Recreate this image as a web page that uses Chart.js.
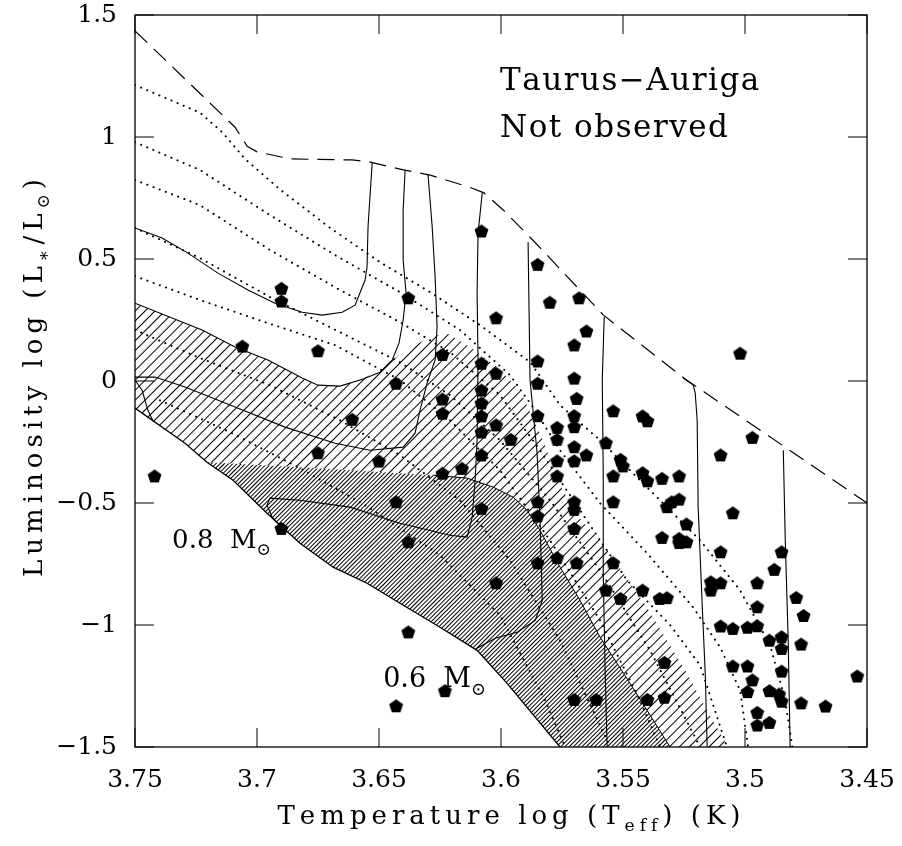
<!DOCTYPE html>
<html>
<head>
<meta charset="utf-8">
<title>Taurus-Auriga HR diagram</title>
<script src="https://cdn.jsdelivr.net/npm/chart.js@4.4.1/dist/chart.umd.min.js"></script>
<style>
  html, body { margin: 0; padding: 0; background: #fff; }
  #wrap { width: 902px; height: 846px; }
</style>
</head>
<body>
<div id="wrap"><canvas id="hrChart" width="902" height="846" style="width:902px;height:846px"></canvas></div>
<script>
  "use strict";

  // axis ticks
  const xTickValues = [3.75, 3.7, 3.65, 3.6, 3.55, 3.5, 3.45];
  const xTickLabels = ["3.75", "3.7", "3.65", "3.6", "3.55", "3.5", "3.45"];
  const yTickValues = [-1.5, -1, -0.5, 0, 0.5, 1, 1.5];
  const yTickLabels = ["\u22121.5", "\u22121", "\u22120.5", "0", "0.5", "1", "1.5"];

  // observed stars: [log Teff, log L]
  const stars = [
    [3.690, 0.380], [3.690, 0.328], [3.638, 0.341], [3.608, 0.615], [3.706, 0.143], [3.675, 0.124], [3.624, 0.109], [3.608, 0.073], [3.602, 0.259], [3.602, 0.032],
    [3.585, 0.478], [3.580, 0.323], [3.568, 0.341], [3.565, 0.205], [3.570, 0.148], [3.502, 0.114], [3.585, 0.082], [3.570, 0.012], [3.585, -0.009], [3.569, -0.071],
    [3.554, -0.122], [3.542, -0.143], [3.540, -0.163], [3.585, -0.142], [3.570, -0.142], [3.577, -0.190], [3.570, -0.187], [3.577, -0.239], [3.608, -0.037], [3.608, -0.090],
    [3.608, -0.143], [3.608, -0.209], [3.608, -0.303], [3.602, -0.180], [3.596, -0.239], [3.570, -0.269], [3.565, -0.303], [3.577, -0.327], [3.570, -0.327], [3.577, -0.389],
    [3.557, -0.253], [3.551, -0.321], [3.550, -0.348], [3.554, -0.389], [3.542, -0.376], [3.540, -0.409], [3.534, -0.399], [3.527, -0.389], [3.497, -0.231], [3.510, -0.303],
    [3.505, -0.540], [3.554, -0.495], [3.532, -0.515], [3.530, -0.495], [3.527, -0.484], [3.524, -0.586], [3.534, -0.641], [3.527, -0.645], [3.527, -0.662], [3.524, -0.659],
    [3.585, -0.495], [3.585, -0.553], [3.570, -0.495], [3.570, -0.526], [3.570, -0.604], [3.510, -0.700], [3.485, -0.700], [3.488, -0.772], [3.495, -0.827], [3.514, -0.823],
    [3.510, -0.827], [3.514, -0.857], [3.479, -0.887], [3.495, -0.925], [3.476, -0.961], [3.510, -1.004], [3.505, -1.014], [3.499, -1.009], [3.495, -1.003], [3.490, -1.062],
    [3.485, -1.048], [3.485, -1.096], [3.477, -1.078], [3.585, -0.745], [3.577, -0.724], [3.569, -0.745], [3.554, -0.745], [3.602, -0.827], [3.557, -0.857], [3.551, -0.891],
    [3.542, -0.857], [3.535, -0.891], [3.532, -0.888], [3.533, -1.153], [3.505, -1.168], [3.499, -1.168], [3.497, -1.225], [3.485, -1.189], [3.499, -1.273], [3.490, -1.269],
    [3.486, -1.283], [3.485, -1.312], [3.477, -1.319], [3.467, -1.332], [3.454, -1.209], [3.570, -1.305], [3.561, -1.305], [3.540, -1.305], [3.533, -1.296], [3.495, -1.358],
    [3.495, -1.410], [3.490, -1.399], [3.643, -0.009], [3.624, -0.074], [3.624, -0.132], [3.661, -0.157], [3.675, -0.294], [3.650, -0.328], [3.624, -0.378], [3.616, -0.358],
    [3.742, -0.389], [3.643, -0.495], [3.608, -0.522], [3.690, -0.604], [3.638, -0.659], [3.638, -1.028], [3.623, -1.269], [3.643, -1.331]
  ];

  // birthline (dashed)
  const birthline = [
    [3.750, 1.435], [3.715, 1.098], [3.709, 1.040], [3.704, 0.962], [3.700, 0.939], [3.690, 0.918], [3.686, 0.910],
    [3.661, 0.906], [3.654, 0.898], [3.640, 0.865], [3.629, 0.844], [3.612, 0.791], [3.607, 0.771], [3.599, 0.700],
    [3.587, 0.578], [3.558, 0.270], [3.524, 0.004], [3.521, -0.016], [3.450, -0.500]
  ];

  // evolutionary tracks (solid)
  const trackA = [[3.6528, 0.893], [3.6545, 0.631], [3.6549, 0.467], [3.6557, 0.414], [3.6598, 0.311], [3.6651, 0.282], [3.6733, 0.270], [3.6815, 0.282], [3.6926, 0.319], [3.7037, 0.373], [3.716, 0.442], [3.7283, 0.524], [3.7389, 0.586], [3.75, 0.627]];
  const trackB = [[3.6393, 0.865], [3.6401, 0.701], [3.6401, 0.496], [3.6389, 0.360], [3.6401, 0.250], [3.6418, 0.155], [3.6446, 0.086], [3.6496, 0.036], [3.6565, 0.008], [3.666, -0.021], [3.675, -0.017], [3.6815, 0.012], [3.6955, 0.086], [3.709, 0.139], [3.7225, 0.209], [3.75, 0.319]];
  const trackC = [[3.6299, 0.844], [3.6282, 0.631], [3.627, 0.426], [3.6262, 0.221], [3.627, 0.086], [3.6303, -0.009], [3.6332, -0.120], [3.6352, -0.214], [3.6401, -0.271], [3.6537, -0.284], [3.668, -0.255], [3.6885, -0.189], [3.709, -0.107], [3.7295, -0.025], [3.7418, 0.016], [3.75, 0.016]];
  const trackCEnd = [[3.75, 0.004], [3.7471, -0.038], [3.7447, -0.120], [3.7426, -0.165]];
  const trackD = [[3.6077, 0.770], [3.6094, 0.606], [3.6098, 0.360], [3.6094, 0.086], [3.6098, -0.243], [3.6106, -0.407], [3.6118, -0.558], [3.6139, -0.640], [3.6209, -0.632], [3.6414, -0.583], [3.6619, -0.517], [3.6824, -0.489], [3.6947, -0.480], [3.6959, -0.509], [3.6938, -0.558], [3.6914, -0.585]];
  const trackE = [[3.5889, 0.569], [3.5881, 0.004], [3.5852, -0.296], [3.584, -0.571], [3.5831, -0.899], [3.586, -0.981], [3.5934, -1.030], [3.6024, -1.054], [3.6098, -1.095]];
  const trackF = [[3.5577, 0.262], [3.5585, 0.004], [3.5581, -0.378], [3.5581, -0.788], [3.5573, -1.198], [3.5565, -1.5]];
  const trackG = [[3.5253, 0.012], [3.5212, -0.017], [3.5204, -0.050], [3.5196, -0.161], [3.5192, -0.517], [3.5175, -0.927], [3.5163, -1.198], [3.5155, -1.5]];
  const trackH = [[3.4843, -0.284], [3.4835, -0.653], [3.4823, -1.063], [3.4815, -1.5]];

  // lower envelope (solid)
  const zams = [[3.75, -0.111], [3.7295, -0.255], [3.7205, -0.333], [3.7098, -0.407], [3.6959, -0.542], [3.6824, -0.665], [3.6688, -0.763], [3.6549, -0.829], [3.6414, -0.911], [3.625, -1.009], [3.6098, -1.104], [3.5975, -1.239], [3.5758, -1.5]];

  // isochrones (dotted)
  const iso1 = [[3.75, 1.213], [3.7234, 1.100], [3.7143, 1.020], [3.7049, 0.910], [3.6906, 0.785], [3.67, 0.627], [3.6496, 0.487], [3.629, 0.364], [3.6086, 0.229], [3.588, 0.077], [3.5758, -0.099], [3.5594, -0.243], [3.5389, -0.448], [3.5184, -0.653], [3.502, -0.858], [3.4897, -1.083], [3.4835, -1.309], [3.4806, -1.5]];
  const iso2 = [[3.75, 0.979], [3.7234, 0.865], [3.6947, 0.680], [3.668, 0.516], [3.6414, 0.364], [3.6168, 0.209], [3.5963, 0.024], [3.586, -0.120], [3.5758, -0.284], [3.5594, -0.501], [3.5401, -0.706], [3.5213, -0.927], [3.5102, -1.091], [3.502, -1.268], [3.4987, -1.5]];
  const iso3 = [[3.75, 0.824], [3.7234, 0.721], [3.6947, 0.537], [3.666, 0.373], [3.6414, 0.241], [3.6209, 0.118], [3.6004, -0.058], [3.584, -0.284], [3.5676, -0.530], [3.5483, -0.817], [3.5307, -1.0], [3.5184, -1.165], [3.5074, -1.5]];
  const iso4 = [[3.75, 0.627], [3.7234, 0.504], [3.6947, 0.344], [3.666, 0.200], [3.6414, 0.077], [3.6209, -0.058], [3.6004, -0.243], [3.5799, -0.489], [3.5594, -0.776], [3.5389, -1.104], [3.5184, -1.5]];
  const iso5 = [[3.75, 0.430], [3.7234, 0.332], [3.6955, 0.237], [3.668, 0.147], [3.6414, 0.004], [3.6209, -0.161], [3.6004, -0.366], [3.5799, -0.653], [3.5594, -0.981], [3.543, -1.309], [3.5348, -1.5]];
  const iso6 = [[3.75, 0.209], [3.7234, 0.094], [3.6947, -0.017], [3.666, -0.161], [3.6414, -0.304], [3.6168, -0.489], [3.5963, -0.735], [3.5758, -1.063], [3.5553, -1.5]];
  const iso7 = [[3.7398, -0.079], [3.711, -0.210], [3.6824, -0.357], [3.6537, -0.521], [3.625, -0.714], [3.6004, -0.960], [3.5819, -1.309], [3.5737, -1.5]];

  // hatched zones
  const lightTop = [[3.75, 0.319], [3.7225, 0.209], [3.709, 0.139], [3.6955, 0.086], [3.6815, 0.012], [3.675, -0.017], [3.666, -0.021], [3.6565, 0.008], [3.6467, 0.073], [3.6373, 0.135], [3.6291, 0.180], [3.6221, 0.196], [3.6127, 0.139], [3.6016, 0.057], [3.5922, -0.038], [3.5828, -0.243], [3.5758, -0.427], [3.5689, -0.550], [3.5594, -0.653], [3.5492, -0.796], [3.5402, -0.927], [3.532, -1.063], [3.5238, -1.198], [3.5155, -1.350], [3.5069, -1.5]];
  const denseTop = [[3.7205, -0.333], [3.6824, -0.353], [3.6414, -0.378], [3.6278, -0.386], [3.6139, -0.398], [3.6032, -0.435], [3.595, -0.476], [3.5893, -0.530], [3.584, -0.612], [3.5758, -0.763], [3.5676, -0.899], [3.5594, -1.050], [3.5471, -1.239], [3.5307, -1.5]];

  // annotations
  const regionLabel = "Taurus\u2212Auriga";
  const statusLabel = "Not observed";

  const TICK = 19;
  const SERIF = '"DejaVu Serif", "DejaVu Sans", serif';

  const xy = (arr) => arr.map((p) => ({ x: p[0], y: p[1] }));
  const lightZone = lightTop.concat([[3.5758, -1.5]], zams.slice(0, -1).reverse());
  const denseZone = denseTop.concat([[3.5758, -1.5]], zams.slice(2, -1).reverse());

  const canvas = document.getElementById("hrChart");
  const ctx = canvas.getContext("2d");

  function pentagonSprite(r) {
    const c = document.createElement("canvas");
    const s = Math.ceil(2 * r + 2);
    c.width = s;
    c.height = s;
    const g = c.getContext("2d");
    const cx = s / 2, cy = s / 2 + r * 0.095;
    g.beginPath();
    for (let k = 0; k < 5; k++) {
      const a = -Math.PI / 2 + (k * 2 * Math.PI) / 5;
      g.lineTo(cx + r * Math.cos(a), cy + r * Math.sin(a));
    }
    g.closePath();
    g.fillStyle = "#000";
    g.fill();
    return c;
  }

  function hatch(gap, width, angle, bg) {
    const tile = document.createElement("canvas");
    tile.width = gap;
    tile.height = 8;
    const g = tile.getContext("2d");
    if (bg) {
      g.fillStyle = bg;
      g.fillRect(0, 0, tile.width, tile.height);
    }
    g.fillStyle = "#000";
    g.fillRect(0, 0, width, tile.height);
    const p = ctx.createPattern(tile, "repeat");
    if (p.setTransform) p.setTransform(new DOMMatrix().rotate(angle));
    return p;
  }

  const lightHatch = hatch(7, 1, 45, null);
  const denseHatch = hatch(3, 1, 45, "#fff");

  function solid(arr, w) {
    return { type: "line", data: xy(arr), borderColor: "#000", borderWidth: w || 1.1, pointRadius: 0, fill: false };
  }
  function dotted(arr) {
    return { type: "line", data: xy(arr), borderColor: "#000", borderWidth: 2, borderDash: [0.1, 6.5], borderCapStyle: "round", pointRadius: 0, fill: false };
  }

  // draws text char by char so the wide spacing of the original can be matched
  function drawParts(g, parts, x, y, size, spacing, measureOnly) {
    let cx = x;
    for (const p of parts) {
      const s = p.sub ? size * 0.66 : size;
      const dy = p.sub ? size * 0.28 : 0;
      g.font = s + "px " + SERIF;
      for (const ch of p.t) {
        if (!measureOnly) g.fillText(ch, cx, y + dy);
        cx += g.measureText(ch).width + spacing;
      }
    }
    return cx - x - spacing;
  }

  const textPlugin = {
    id: "frameAndText",
    afterDraw(chart) {
      const g = chart.ctx;
      const a = chart.chartArea;
      const xs = chart.scales.x, ys = chart.scales.y;
      g.save();
      g.strokeStyle = "#000";
      g.fillStyle = "#000";
      g.lineWidth = 1.3;
      g.strokeRect(a.left, a.top, a.right - a.left, a.bottom - a.top);
      g.lineWidth = 1;
      g.beginPath();
      xTickValues.forEach((v) => {
        const px = xs.getPixelForValue(v);
        g.moveTo(px, a.bottom); g.lineTo(px, a.bottom - TICK);
        g.moveTo(px, a.top); g.lineTo(px, a.top + TICK);
      });
      yTickValues.forEach((v) => {
        const py = ys.getPixelForValue(v);
        g.moveTo(a.left, py); g.lineTo(a.left + TICK, py);
        g.moveTo(a.right, py); g.lineTo(a.right - TICK, py);
      });
      g.stroke();

      g.textBaseline = "alphabetic";
      g.textAlign = "left";
      drawParts(g, [{ t: regionLabel }], xs.getPixelForValue(3.6004), ys.getPixelForValue(1.1925), 31, 1.5);
      drawParts(g, [{ t: statusLabel }], xs.getPixelForValue(3.6004), ys.getPixelForValue(1.0), 31, 1.5);
      drawParts(g, [{ t: "0.8  M" }, { t: "\u2299", sub: true }], xs.getPixelForValue(3.7348), ys.getPixelForValue(-0.685), 26, 0);
      drawParts(g, [{ t: "0.6  M" }, { t: "\u2299", sub: true }], xs.getPixelForValue(3.6483), ys.getPixelForValue(-1.255), 27, 0);

      // axis titles
      const xTitle = [{ t: "Temperature log (T" }, { t: "eff", sub: true }, { t: ") (K)" }];
      const wx = drawParts(g, xTitle, 0, 0, 26, 5, true);
      drawParts(g, xTitle, (a.left + a.right) / 2 + 8 - wx / 2, a.bottom + 77, 26, 5);

      const yTitle = [{ t: "Luminosity log (L" }, { t: "\u2217", sub: true }, { t: "/L" }, { t: "\u2299", sub: true }, { t: ")" }];
      const wy = drawParts(g, yTitle, 0, 0, 26, 5, true);
      g.translate(a.left - 93, (a.top + a.bottom) / 2 - 3);
      g.rotate(-Math.PI / 2);
      drawParts(g, yTitle, -wy / 2, 0, 26, 5);
      g.restore();
    }
  };

  new Chart(ctx, {
    type: "scatter",
    data: {
      datasets: [
        { type: "scatter", data: xy(stars), pointStyle: pentagonSprite(7.3), pointRadius: 7, order: 0 },
        solid(trackA), solid(trackB), solid(trackC), solid(trackCEnd), solid(trackD),
        solid(trackE), solid(trackF), solid(trackG), solid(trackH),
        solid(zams, 1.3),
        solid(denseTop.slice(3), 1),
        { type: "line", data: xy(birthline), borderColor: "#000", borderWidth: 1.2, borderDash: [17, 9], pointRadius: 0, fill: false },
        dotted(iso1), dotted(iso2), dotted(iso3), dotted(iso4), dotted(iso5), dotted(iso6), dotted(iso7),
        { type: "line", data: xy(denseZone.concat([denseZone[0]])), borderWidth: 0, pointRadius: 0, fill: "shape", backgroundColor: denseHatch },
        { type: "line", data: xy(lightZone.concat([lightZone[0]])), borderWidth: 0, pointRadius: 0, fill: "shape", backgroundColor: lightHatch }
      ]
    },
    options: {
      responsive: false,
      animation: false,
      events: [],
      layout: { padding: { top: 15, right: 35, left: 0, bottom: 0 } },
      plugins: { legend: { display: false }, tooltip: { enabled: false } },
      scales: {
        x: {
          type: "linear",
          reverse: true,
          min: 3.45,
          max: 3.75,
          grid: { display: false, drawTicks: false },
          border: { display: false },
          afterBuildTicks: (s) => { s.ticks = xTickValues.map((v) => ({ value: v })); },
          afterFit: (s) => { s.height = 99; s.paddingLeft = 0; s.paddingRight = 0; },
          ticks: {
            padding: 18,
            color: "#000",
            maxRotation: 0,
            autoSkip: false,
            font: { family: SERIF, size: 25 },
            callback: (v) => xTickLabels[xTickValues.findIndex((t) => Math.abs(t - v) < 1e-9)]
          }
        },
        y: {
          type: "linear",
          min: -1.5,
          max: 1.5,
          grid: { display: false, drawTicks: false },
          border: { display: false },
          afterBuildTicks: (s) => { s.ticks = yTickValues.map((v) => ({ value: v })); },
          afterFit: (s) => { s.width = 135; s.paddingTop = 0; s.paddingBottom = 0; },
          ticks: {
            padding: 18,
            color: "#000",
            autoSkip: false,
            font: { family: SERIF, size: 25 },
            callback: (v) => yTickLabels[yTickValues.findIndex((t) => Math.abs(t - v) < 1e-9)]
          }
        }
      }
    },
    plugins: [textPlugin]
  });
</script>
</body>
</html>
